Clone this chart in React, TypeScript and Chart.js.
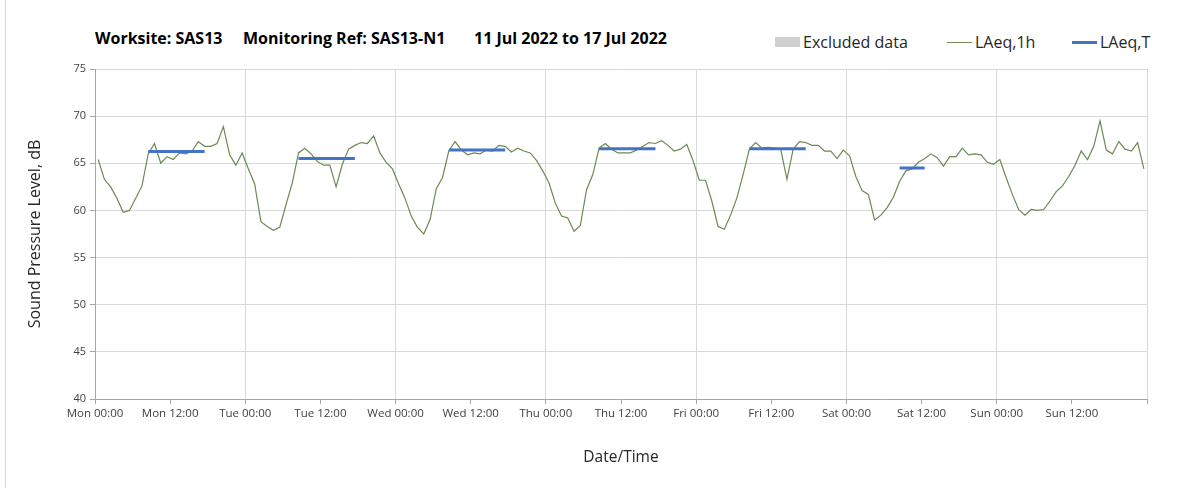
import React, { useEffect, useRef } from "react";
import { Chart, registerables } from "chart.js";

Chart.register(...registerables);

// Hourly LAeq,1h values (dB), one array per day, Mon 11 Jul 2022 .. Sun 17 Jul 2022
const monValues = [65.4, 63.3, 62.5, 61.3, 59.8, 60.0, 61.3, 62.6, 66.0, 67.1, 65.0, 65.7, 65.4, 66.1, 66.0, 66.3, 67.3, 66.8, 66.8, 67.1, 68.9, 65.9, 64.8, 66.1];
const tueValues = [64.4, 62.8, 58.8, 58.3, 57.9, 58.2, 60.6, 62.9, 66.1, 66.6, 66.0, 65.2, 64.8, 64.8, 62.5, 64.9, 66.5, 66.9, 67.2, 67.1, 67.9, 66.1, 65.1, 64.4];
const wedValues = [62.8, 61.3, 59.4, 58.2, 57.5, 59.0, 62.3, 63.5, 66.3, 67.3, 66.4, 65.9, 66.1, 66.0, 66.4, 66.3, 66.9, 66.8, 66.2, 66.6, 66.3, 66.1, 65.3, 64.2];
const thuValues = [62.9, 60.8, 59.4, 59.2, 57.8, 58.4, 62.2, 63.8, 66.6, 67.1, 66.5, 66.1, 66.1, 66.1, 66.4, 66.8, 67.2, 67.1, 67.4, 66.9, 66.3, 66.5, 67.0, 65.3];
const friValues = [63.2, 63.2, 61.0, 58.3, 58.0, 59.5, 61.3, 63.8, 66.5, 67.2, 66.6, 66.7, 66.6, 66.5, 63.3, 66.5, 67.3, 67.2, 66.9, 66.9, 66.3, 66.3, 65.5, 66.4];
const satValues = [65.8, 63.6, 62.1, 61.7, 59.0, 59.5, 60.3, 61.4, 63.1, 64.2, 64.4, 65.1, 65.5, 66.0, 65.6, 64.7, 65.7, 65.7, 66.6, 65.9, 66.0, 65.9, 65.1, 64.9];
const sunValues = [65.4, 63.5, 61.7, 60.1, 59.5, 60.1, 60.0, 60.1, 61.0, 62.0, 62.6, 63.6, 64.8, 66.3, 65.4, 66.8, 69.5, 66.4, 66.0, 67.3, 66.5, 66.3, 67.2, 64.4];

// LAeq,T periods (hour index of first and last hourly value in period) and level
const periodStartHour = [8, 32, 56, 80, 104, 128];
const periodEndHour = [17, 41, 65, 89, 113, 132];
const periodLevel = [66.25, 65.5, 66.4, 66.55, 66.55, 64.5];

const xTickLabels = [
  "Mon 00:00", "Mon 12:00", "Tue 00:00", "Tue 12:00", "Wed 00:00", "Wed 12:00",
  "Thu 00:00", "Thu 12:00", "Fri 00:00", "Fri 12:00", "Sat 00:00", "Sat 12:00",
  "Sun 00:00", "Sun 12:00", "",
];

const FONT = "'Open Sans', Lato, sans-serif";

export default function App() {
  const canvasRef = useRef<HTMLCanvasElement | null>(null);

  useEffect(() => {
    const hourly = [
      ...monValues, ...tueValues, ...wedValues, ...thuValues,
      ...friValues, ...satValues, ...sunValues,
    ];
    const lineData = hourly.map((v, i) => ({ x: i + 0.5, y: v }));
    const periodData: { x: number; y: number | null }[] = [];
    periodStartHour.forEach((s, k) => {
      periodData.push({ x: s + 0.5, y: periodLevel[k] });
      periodData.push({ x: periodEndHour[k] + 0.5, y: periodLevel[k] });
      periodData.push({ x: periodEndHour[k] + 1, y: null });
    });

    const chart = new Chart(canvasRef.current as HTMLCanvasElement, {
      type: "line",
      data: {
        datasets: [
          {
            label: "LAeq,1h",
            data: lineData,
            borderColor: "#6a8a52",
            borderWidth: 1.2,
            pointRadius: 0,
            tension: 0,
            order: 2,
          },
          {
            label: "LAeq,T",
            data: periodData,
            borderColor: "#4472c4",
            borderWidth: 3,
            pointRadius: 0,
            spanGaps: false,
            order: 1,
          },
        ],
      },
      options: {
        animation: false,
        responsive: true,
        maintainAspectRatio: false,
        layout: { padding: { left: 20, right: 56, top: 69, bottom: 0 } },
        plugins: {
          legend: { display: false },
          title: { display: false },
          tooltip: { enabled: false },
        },
        scales: {
          x: {
            type: "linear",
            min: 0,
            max: 168,
            afterFit: (scale: any) => {
              scale.height = 89;
            },
            ticks: {
              stepSize: 12,
              autoSkip: false,
              maxRotation: 0,
              padding: 3,
              color: "#404040",
              font: { family: FONT, size: 11.5 },
              callback: (v: any) => xTickLabels[Math.round(Number(v) / 12)] ?? "",
            },
            grid: {
              color: (ctx: any) =>
                ctx.tick && Math.round(ctx.tick.value) % 24 === 0 ? "#d9d9d9" : "rgba(0,0,0,0)",
              tickColor: "#a6a6a6",
              tickLength: 5,
              drawTicks: true,
            },
            border: { display: true, color: "#a6a6a6" },
            title: {
              display: true,
              text: "Date/Time",
              color: "#262626",
              font: { family: FONT, size: 15.5 },
              padding: { top: 0, bottom: 21 },
            },
          },
          y: {
            min: 40,
            max: 75,
            afterFit: (scale: any) => {
              scale.width = 75;
            },
            ticks: {
              stepSize: 5,
              padding: 4,
              color: "#404040",
              font: { family: FONT, size: 11 },
            },
            grid: {
              color: "#d9d9d9",
              tickColor: "#a6a6a6",
              tickLength: 5,
            },
            border: { display: true, color: "#a6a6a6" },
            title: {
              display: true,
              text: "Sound Pressure Level, dB",
              color: "#262626",
              font: { family: FONT, size: 16 },
              padding: { top: 6, bottom: 0 },
            },
          },
        },
      },
    });
    return () => chart.destroy();
  }, []);

  const titleStyle: React.CSSProperties = {
    position: "absolute",
    top: 28,
    fontFamily: FONT,
    fontWeight: 700,
    fontSize: 16,
    lineHeight: "20px",
    color: "#000",
    whiteSpace: "nowrap",
  };
  const legendText: React.CSSProperties = {
    position: "absolute",
    top: 32,
    fontFamily: FONT,
    fontSize: 16,
    lineHeight: "20px",
    color: "#262626",
    whiteSpace: "nowrap",
  };

  return (
    <div
      style={{
        position: "absolute",
        left: 0,
        top: 0,
        width: 1203,
        height: 488,
        background: "#fff",
        overflow: "hidden",
      }}
    >
      <div style={{ position: "absolute", left: 5, top: 0, width: 1, height: 488, background: "#d9d9d9" }} />
      <div style={{ ...titleStyle, left: 95 }}>Worksite: SAS13</div>
      <div style={{ ...titleStyle, left: 243 }}>Monitoring Ref: SAS13-N1</div>
      <div style={{ ...titleStyle, left: 474 }}>11 Jul 2022 to 17 Jul 2022</div>

      <div style={{ position: "absolute", left: 775, top: 37, width: 25, height: 10, background: "#d0d0d0" }} />
      <div style={{ ...legendText, left: 803 }}>Excluded data</div>
      <div style={{ position: "absolute", left: 947, top: 41.5, width: 25, height: 1.2, background: "#6a8a52" }} />
      <div style={{ ...legendText, left: 975 }}>LAeq,1h</div>
      <div style={{ position: "absolute", left: 1072, top: 40.5, width: 25, height: 3, background: "#4472c4" }} />
      <div style={{ ...legendText, left: 1100 }}>LAeq,T</div>

      <div style={{ position: "absolute", left: 0, top: 0, width: 1203, height: 488 }}>
        <canvas ref={canvasRef} />
      </div>
    </div>
  );
}
